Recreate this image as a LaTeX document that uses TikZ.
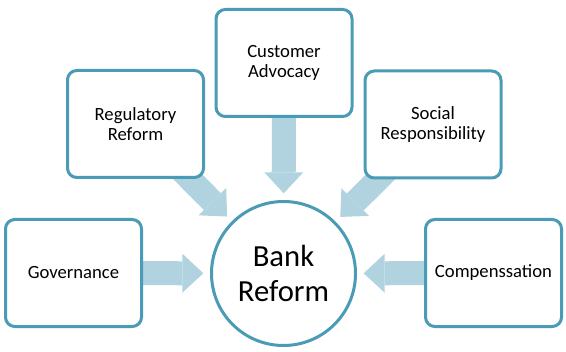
\documentclass[tikz,border=0pt]{standalone}
\usepackage{fontspec}
\setmainfont{Carlito}
\usepackage{tikz}
\usetikzlibrary{arrows.meta,backgrounds}
\definecolor{boxline}{HTML}{4A9BB5}
\definecolor{arrowfill}{HTML}{B1D3E0}

\begin{document}
\begin{tikzpicture}[
    x=0.75pt, y=-0.75pt,
    box/.style={rectangle, draw=boxline, line width=2.25pt, fill=white, rounded corners=7pt, minimum width=102pt, minimum height=80.25pt, align=center, font=\fontsize{14}{15}\selectfont},
    hub/.style={circle, draw=boxline, line width=2.25pt, fill=white, minimum size=108pt, inner sep=0pt, align=center, font=\fontsize{23}{26.5}\selectfont},
    flow/.style={draw=arrowfill, line width=18pt, shorten >=5pt, -{Triangle[length=15.75pt,width=29.25pt,line width=0pt]}}
]
    \useasboundingbox (0,0) rectangle (566,352);

    \node[hub] (bank) at (283.5,273.5) {Bank\\Reform};
    \node[box] (governance) at (73.5,273) {Governance};
    \node[box] (regulatory) at (135.5,124) {Regulatory\\Reform};
    \node[box] (customer) at (284,63) {Customer\\Advocacy};
    \node[box] (social) at (433,124.5) {Social\\Responsibility};
    \node[box] (compensation) at (493.5,273) {Compenssation};

    \begin{scope}[on background layer]
        \draw[flow] (governance.center) -- (bank);
        \draw[flow] (regulatory.center) -- (bank);
        \draw[flow] (customer.center) -- (bank);
        \draw[flow] (social.center) -- (bank);
        \draw[flow] (compensation.center) -- (bank);
    \end{scope}
\end{tikzpicture}
\end{document}
